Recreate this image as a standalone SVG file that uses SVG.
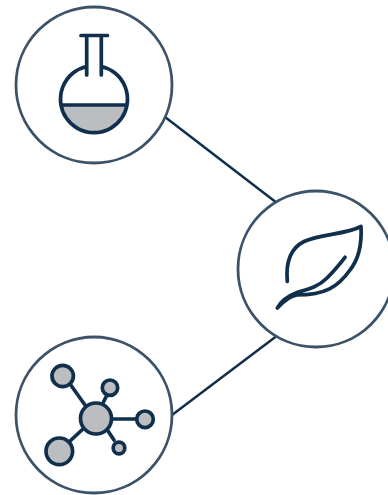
<svg xmlns="http://www.w3.org/2000/svg" width="388" height="495" viewBox="0 0 388 495">
<style>
.ring{fill:#fff;stroke:#3b5269;stroke-width:2.8}
.ic{fill:none;stroke:#0f2f4c;stroke-width:3.7;stroke-linecap:round;stroke-linejoin:round}
.fl{fill:#bcbdc1;stroke:#0f2f4c;stroke-width:3.7}
.conn{stroke:#0f2f4c;stroke-width:2.5;fill:none}
</style>
<rect width="388" height="495" fill="#fff"/>
<g id="connectors"><line class="conn" x1="165" y1="117" x2="277" y2="203"/><line class="conn" x1="278" y1="335" x2="172" y2="415"/></g>
<g id="flask">
<circle class="ring" cx="94" cy="85" r="78"/>
<path d="M60.800 105H127.200A33.500 33.500 0 0 1 60.800 105Z" fill="#bcbdc1"/>
<path class="ic" d="M86.700 66.500A33.500 33.500 0 1 0 101.300 66.500M61 105H127M81 35.500H107.500M86.700 36V75M101.300 36V75"/>
</g>
<g id="leaf">
<circle class="ring" cx="316" cy="269" r="78"/>
<path class="ic" d="M287.300 281.500C285.500 262 291 248 304 241.500C320 233.500 345 235 361 226.500C362 245 358 260 350 270C338 287 325 295 297 295C289 296 283 302 277.300 308C281 301 288 296 297 292.500C309 289 318 287 327 278C334 271 339 265 345 257.300"/>
</g>
<g id="network">
<circle class="ring" cx="94" cy="415" r="78"/>
<path class="ic" d="M70 384L85 405M107 395L103 403M111 419H137M108 431L114 440M84 428L69 442"/>
<circle class="fl" cx="96" cy="418.500" r="15.500"/>
<circle class="fl" cx="62.700" cy="376" r="10.700"/>
<circle class="fl" cx="110" cy="387.700" r="7.700"/>
<circle class="fl" cx="145" cy="419.300" r="8.300"/>
<circle class="fl" cx="59.300" cy="451.300" r="13.300"/>
<circle class="fl" cx="119" cy="448" r="5.800"/>
</g>
</svg>
